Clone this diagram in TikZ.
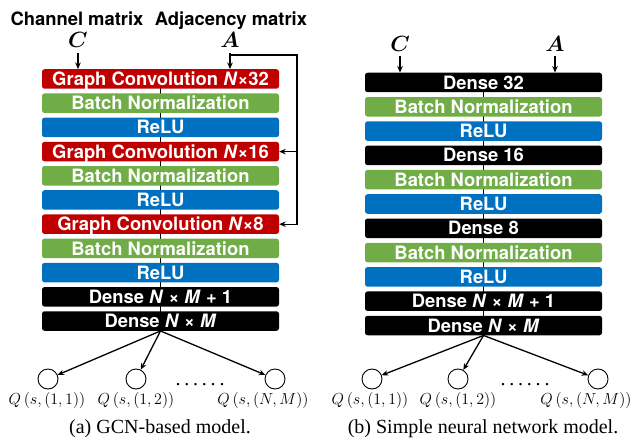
\documentclass[tikz,border=0pt]{standalone}
\usepackage{fix-cm}
\usepackage[no-math]{fontspec}
\usepackage{bm}
\setmainfont{Liberation Serif}
\newfontfamily\hv{TeX Gyre Heros}
\usetikzlibrary{arrows.meta,backgrounds}

\definecolor{gcred}{HTML}{C00000}
\definecolor{bngreen}{HTML}{70AD47}
\definecolor{rlblue}{HTML}{0070C0}

\tikzset{
  nnbox/.style={rounded corners=2.5pt, minimum width=237pt, minimum height=19.5pt,
    inner sep=0pt, text=white, font=\hv\bfseries\fontsize{18.4}{20}\selectfont,
    text height=13.2pt, text depth=0pt},
  gconv/.style={nnbox, fill=gcred},
  bnorm/.style={nnbox, fill=bngreen},
  relu/.style={nnbox, fill=rlblue},
  dense/.style={nnbox, fill=black},
  title/.style={font=\hv\bfseries\fontsize{18.4}{20}\selectfont, anchor=base, inner sep=0pt},
  mat/.style={font=\fontsize{22}{24}\selectfont, anchor=base, inner sep=0pt},
  qnode/.style={circle, draw, line width=0.9pt, minimum size=20pt, inner sep=0pt},
  qlabel/.style={font=\fontsize{16}{18}\selectfont, inner sep=0pt},
  dotsnode/.style={font=\fontsize{20}{20}\selectfont, anchor=base, inner sep=0pt},
  caption/.style={font=\fontsize{20}{22}\selectfont, anchor=base, inner sep=0pt},
  arr/.style={-{Stealth[length=6.5pt,width=5.5pt]}, line width=1.3pt},
  conn/.style={line width=1.3pt},
}

\begin{document}
\begin{tikzpicture}[x=1pt,y=-1pt]
\useasboundingbox (0,0) rectangle (636,438);

% ---------- (a) GCN-based model ----------
\node[gconv] (l1)  at (160.5,79)    {Graph Convolution \textit{N}×32};
\node[bnorm] (l2)  at (160.5,103.2) {Batch Normalization};
\node[relu]  (l3)  at (160.5,127.4) {ReLU};
\node[gconv] (l4)  at (160.5,151.6) {Graph Convolution \textit{N}×16};
\node[bnorm] (l5)  at (160.5,175.8) {Batch Normalization};
\node[relu]  (l6)  at (160.5,200)   {ReLU};
\node[gconv] (l7)  at (160.5,224.2) {Graph Convolution \textit{N}×8};
\node[bnorm] (l8)  at (160.5,248.4) {Batch Normalization};
\node[relu]  (l9)  at (160.5,272.6) {ReLU};
\node[dense] (l10) at (160.5,296.8) {Dense \textit{N} × \textit{M} + 1};
\node[dense] (l11) at (160.5,321)   {Dense \textit{N} × \textit{M}};

\begin{scope}[on background layer]
  \draw[conn] (l1.center) -- (l11.center);
\end{scope}

\node[title] (tch) at (77,26)  {Channel matrix};
\node[title] (tad) at (231,26) {Adjacency matrix};
\node[mat] (lc) at (78,48)  {$\bm{C}$};
\node[mat] (la) at (230,48) {$\bm{A}$};
\draw[arr] ([yshift=-5pt]lc.south) -- (lc.south |- l1.north);
\draw[arr] ([yshift=-5pt]la.south) -- (la.south |- l1.north);

% adjacency matrix fed to every graph convolution
\coordinate (fb) at (297,55);
\draw[arr, line join=miter] (la.south |- fb) -- (fb) -- (fb |- l7.east) -- (l7.east);
\draw[arr] (fb |- l4.east) -- (l4.east);

\node[qnode] (lq1) at (48,379)  {};
\node[qnode] (lq2) at (136,379) {};
\node[qnode] (lq3) at (275,379) {};
\draw[arr] (l11.south) -- (lq1);
\draw[arr] (l11.south) -- (lq2);
\draw[arr] (l11.south) -- (lq3);
\node[dotsnode] (ldots) at (200,385) {.\hspace{3.8pt}.\hspace{3.8pt}.\hspace{3.8pt}.\hspace{3.8pt}.\hspace{3.8pt}.};

\node[qlabel] (lql1) at (47,400.5)  {$Q\left(s,(1,1)\right)$};
\node[qlabel] (lql2) at (136,400.5) {$Q\left(s,(1,2)\right)$};
\node[qlabel] (lql3) at (263,400.5) {$Q\left(s,(N,M)\right)$};

\node[caption] (capa) at (160,433) {(a) GCN-based model.};

% ---------- (b) Simple neural network model ----------
\node[dense] (r1)  at (483.5,82.5)  {Dense 32};
\node[bnorm] (r2)  at (483.5,106.8) {Batch Normalization};
\node[relu]  (r3)  at (483.5,131.1) {ReLU};
\node[dense] (r4)  at (483.5,155.4) {Dense 16};
\node[bnorm] (r5)  at (483.5,179.7) {Batch Normalization};
\node[relu]  (r6)  at (483.5,204)   {ReLU};
\node[dense] (r7)  at (483.5,228.3) {Dense 8};
\node[bnorm] (r8)  at (483.5,252.6) {Batch Normalization};
\node[relu]  (r9)  at (483.5,276.9) {ReLU};
\node[dense] (r10) at (483.5,301.2) {Dense \textit{N} × \textit{M} + 1};
\node[dense] (r11) at (483.5,325.5) {Dense \textit{N} × \textit{M}};

\begin{scope}[on background layer]
  \draw[conn] (r1.center) -- (r11.center);
\end{scope}

\node[mat] (rc) at (400,52) {$\bm{C}$};
\node[mat] (ra) at (555,52) {$\bm{A}$};
\draw[arr] ([yshift=-4pt]rc.south) -- (rc.south |- r1.north);
\draw[arr] ([yshift=-4pt]ra.south) -- (ra.south |- r1.north);

\node[qnode] (rq1) at (372,379) {};
\node[qnode] (rq2) at (458,379) {};
\node[qnode] (rq3) at (598,379) {};
\draw[arr] (r11.south) -- (rq1);
\draw[arr] (r11.south) -- (rq2);
\draw[arr] (r11.south) -- (rq3);
\node[dotsnode] (rdots) at (525,385) {.\hspace{3.8pt}.\hspace{3.8pt}.\hspace{3.8pt}.\hspace{3.8pt}.\hspace{3.8pt}.};

\node[qlabel] (rql1) at (370,400.5) {$Q\left(s,(1,1)\right)$};
\node[qlabel] (rql2) at (458,400.5) {$Q\left(s,(1,2)\right)$};
\node[qlabel] (rql3) at (586,400.5) {$Q\left(s,(N,M)\right)$};

\node[caption] (capb) at (483,433) {(b) Simple neural network model.};
\end{tikzpicture}
\end{document}
